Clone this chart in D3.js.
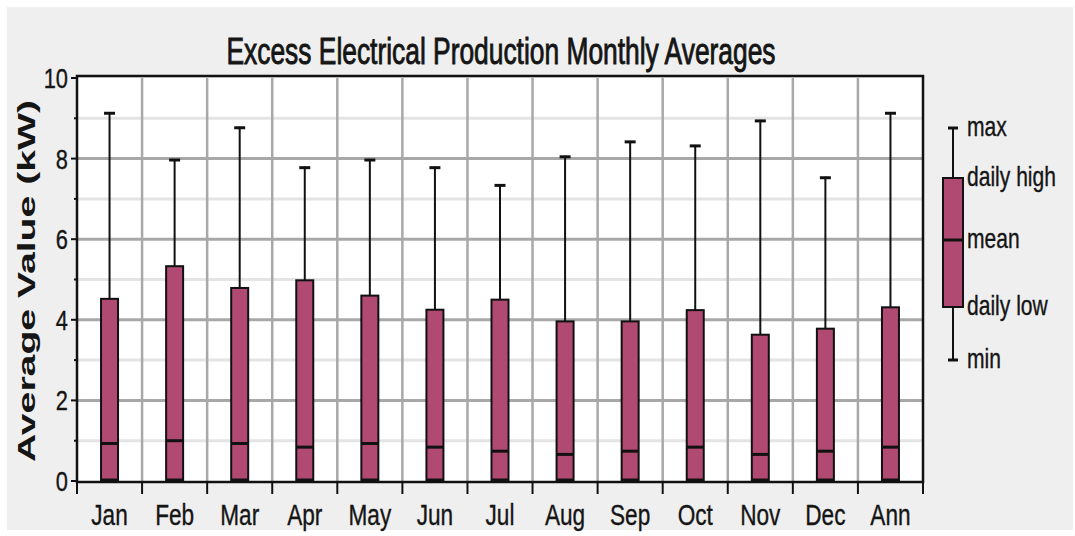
<!DOCTYPE html>
<html><head><meta charset="utf-8">
<script src="https://cdn.jsdelivr.net/npm/d3@7"></script>
<style>
html,body{margin:0;padding:0;background:#fff;}
svg{display:block;}
</style></head>
<body>
<svg id="chart" width="1075" height="536"></svg>
<script>
const categories = ["Jan","Feb","Mar","Apr","May","Jun","Jul","Aug","Sep","Oct","Nov","Dec","Ann"];
const maxVals  = [9.15, 7.99, 8.79, 7.80, 7.99, 7.80, 7.36, 8.07, 8.44, 8.34, 8.96, 7.55, 9.15];
const highVals = [4.52, 5.33, 4.79, 4.98, 4.60, 4.25, 4.50, 3.96, 3.96, 4.24, 3.63, 3.78, 4.31];
const meanVals = [0.93, 1.00, 0.93, 0.84, 0.93, 0.84, 0.74, 0.66, 0.74, 0.84, 0.66, 0.74, 0.84];
const lowVals  = [0, 0, 0, 0, 0, 0, 0, 0, 0, 0, 0, 0, 0];
const minVals  = [0, 0, 0, 0, 0, 0, 0, 0, 0, 0, 0, 0, 0];
const yMajorTicks = [0, 2, 4, 6, 8, 10];
const yMinorTicks = [1, 3, 5, 7, 9];
const legendLabels = ["max", "daily high", "mean", "daily low", "min"];
const titleText = "Excess Electrical Production Monthly Averages";
const yLabel = "Average Value (kW)";

const svg = d3.select("#chart");
const font = "'Liberation Sans',Arial,sans-serif";
const boxFill = "#b04a73";
const textCol = "#151515";
const sx = 0.78; // horizontal condensing for the narrow face

// background panel
svg.append("rect").attr("x",7).attr("y",7).attr("width",1066).attr("height",523).attr("fill","#efefef");

const L = 77, R = 923, T = 78, B = 481;
const x = d3.scaleBand().domain(categories).range([L, R]).padding(0);
const y = d3.scaleLinear().domain([0, 10]).range([B, T]);

function ntext(parent, tx, ty, str, size, anchor){
  return parent.append("text")
    .attr("transform",`translate(${tx},${ty}) scale(${sx},1)`)
    .attr("text-anchor",anchor||"start")
    .attr("font-family",font).attr("font-size",size).attr("fill",textCol)
    .attr("stroke",textCol).attr("stroke-width",0.35)
    .text(str);
}

// plot area
svg.append("rect").attr("x",L).attr("y",T).attr("width",R-L).attr("height",B-T).attr("fill","#fff");

// minor gridlines
svg.append("g").selectAll("line").data(yMinorTicks).join("line")
  .attr("x1",L).attr("x2",R).attr("y1",d=>y(d)).attr("y2",d=>y(d))
  .attr("stroke","#e4e4e4").attr("stroke-width",3);
// major gridlines
svg.append("g").selectAll("line").data(yMajorTicks.filter(d=>d>0&&d<10)).join("line")
  .attr("x1",L).attr("x2",R).attr("y1",d=>y(d)).attr("y2",d=>y(d))
  .attr("stroke","#a8a8a8").attr("stroke-width",3);
// vertical gridlines at band boundaries
const bounds = categories.slice(1).map(c=>x(c));
svg.append("g").selectAll("line").data(bounds).join("line")
  .attr("x1",d=>d).attr("x2",d=>d).attr("y1",T).attr("y2",B)
  .attr("stroke","#a8a8a8").attr("stroke-width",2.5);

// boxes
const bw = 17, capW = 11;
const g = svg.append("g");
categories.forEach((c,i)=>{
  const cx = x(c) + x.bandwidth()/2;
  g.append("line").attr("x1",cx).attr("x2",cx).attr("y1",y(maxVals[i])).attr("y2",y(highVals[i]))
    .attr("stroke","#111").attr("stroke-width",2);
  g.append("line").attr("x1",cx-capW/2).attr("x2",cx+capW/2).attr("y1",y(maxVals[i])+1).attr("y2",y(maxVals[i])+1)
    .attr("stroke","#111").attr("stroke-width",3);
  g.append("line").attr("x1",cx).attr("x2",cx).attr("y1",y(lowVals[i])).attr("y2",y(minVals[i]))
    .attr("stroke","#111").attr("stroke-width",2);
  g.append("rect").attr("x",cx-bw/2).attr("y",y(highVals[i]))
    .attr("width",bw).attr("height",y(lowVals[i])-y(highVals[i]))
    .attr("fill",boxFill).attr("stroke","#111").attr("stroke-width",2);
  g.append("line").attr("x1",cx-bw/2).attr("x2",cx+bw/2).attr("y1",y(meanVals[i])).attr("y2",y(meanVals[i]))
    .attr("stroke","#111").attr("stroke-width",3);
  g.append("line").attr("x1",cx-bw/2).attr("x2",cx+bw/2).attr("y1",y(minVals[i])-1).attr("y2",y(minVals[i])-1)
    .attr("stroke","#111").attr("stroke-width",3);
});

// frame
svg.append("rect").attr("x",L).attr("y",T-2).attr("width",R-L).attr("height",B-T+3)
  .attr("fill","none").attr("stroke","#111").attr("stroke-width",2.5);

// y axis ticks + labels
svg.append("g").selectAll("line").data(yMajorTicks).join("line")
  .attr("x1",L-6).attr("x2",L).attr("y1",d=>y(d)).attr("y2",d=>y(d))
  .attr("stroke","#111").attr("stroke-width",2);
svg.append("g").selectAll("line").data(yMinorTicks).join("line")
  .attr("x1",L-3).attr("x2",L).attr("y1",d=>y(d)).attr("y2",d=>y(d))
  .attr("stroke","#111").attr("stroke-width",2);
const yl = svg.append("g");
yMajorTicks.forEach(d=>ntext(yl, L-9, y(d)+10, d, 28, "end"));

// x axis ticks at band boundaries
const xt = [L].concat(bounds).concat([R]);
svg.append("g").selectAll("line").data(xt).join("line")
  .attr("x1",d=>d).attr("x2",d=>d).attr("y1",B).attr("y2",B+13)
  .attr("stroke","#111").attr("stroke-width",2);
const xl = svg.append("g");
categories.forEach(c=>ntext(xl, x(c)+x.bandwidth()/2, 525, c, 29, "middle"));

// title
svg.append("text").attr("x",501).attr("y",64).attr("text-anchor","middle")
  .attr("font-family",font).attr("font-size",37).attr("fill",textCol)
  .attr("stroke",textCol).attr("stroke-width",0.9)
  .attr("textLength",549).attr("lengthAdjust","spacingAndGlyphs")
  .text(titleText);

// y label
svg.append("text").attr("transform","translate(35,281) rotate(-90)").attr("text-anchor","middle")
  .attr("font-family",font).attr("font-weight","bold")
  .attr("font-size",24).attr("fill",textCol)
  .attr("textLength",362).attr("lengthAdjust","spacingAndGlyphs")
  .text(yLabel);

// legend
const lx = 953;
const ly = [128, 178, 240, 307, 360];
const lg = svg.append("g");
lg.append("line").attr("x1",lx).attr("x2",lx).attr("y1",ly[0]).attr("y2",ly[4]).attr("stroke","#111").attr("stroke-width",2);
lg.append("line").attr("x1",lx-5).attr("x2",lx+5).attr("y1",ly[0]).attr("y2",ly[0]).attr("stroke","#111").attr("stroke-width",3);
lg.append("line").attr("x1",lx-5).attr("x2",lx+5).attr("y1",ly[4]).attr("y2",ly[4]).attr("stroke","#111").attr("stroke-width",3);
lg.append("rect").attr("x",lx-10).attr("y",ly[1]).attr("width",20).attr("height",ly[3]-ly[1])
  .attr("fill",boxFill).attr("stroke","#111").attr("stroke-width",2);
lg.append("line").attr("x1",lx-10).attr("x2",lx+10).attr("y1",ly[2]).attr("y2",ly[2]).attr("stroke","#111").attr("stroke-width",3);
legendLabels.forEach((d,i)=>ntext(lg, 967, ly[i]+8, d, 27, "start"));
</script>
</body></html>
